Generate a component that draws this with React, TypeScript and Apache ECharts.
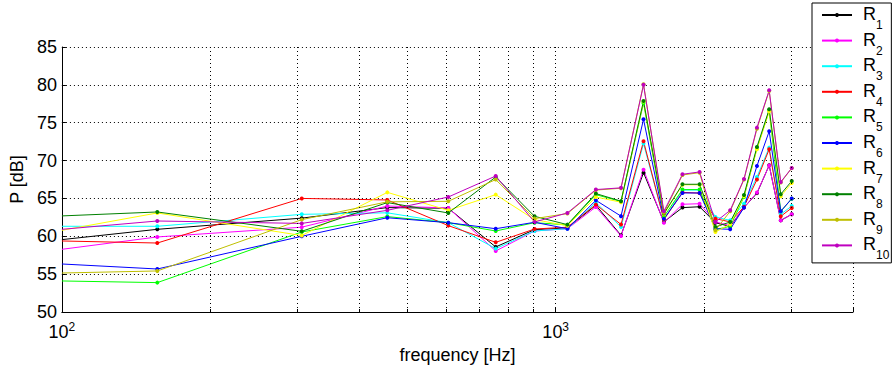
import React, { useEffect, useRef } from 'react';
import * as echarts from 'echarts';

// Frequencies (Hz). The first entry is the left edge of the plot (lines enter from below 100 Hz).
const frequencies = [100, 156, 306, 456, 606, 756, 906, 1056, 1206, 1356, 1506, 1656, 1806, 1956, 2106, 2256, 2406, 2556, 2706, 2856, 3006];

const seriesNames = ['R1', 'R2', 'R3', 'R4', 'R5', 'R6', 'R7', 'R8', 'R9', 'R10'];
const seriesColors = ['#000000', '#ff00ff', '#00ffff', '#ff0000', '#00ff00', '#0000ff', '#ffff00', '#008000', '#bfbf00', '#bf00bf'];

const r1 = [59.56, 60.92, 62.4, 63.79, 63.7, 58.59, 60.88, 61.1, 64.1, 60.13, 68.4, 61.9, 63.79, 63.9, 61.8, 61.3, 63.8, 65.7, 69.38, 62.1, 62.9];
const r2 = [58.28, 59.91, 61.2, 64.0, 63.74, 58.06, 60.7, 61.0, 63.87, 60.04, 68.8, 61.8, 64.23, 64.3, 61.9, 61.4, 63.8, 65.77, 69.35, 62.1, 62.9];
const r3 = [61.32, 61.32, 62.9, 63.1, 61.8, 58.37, 60.7, 61.0, 64.45, 61.23, 72.24, 62.2, 66.1, 66.1, 62.55, 62.1, 64.3, 67.83, 71.71, 62.9, 64.0];
const r4 = [59.38, 59.11, 65.0, 64.8, 61.41, 59.2, 60.96, 61.2, 64.18, 61.56, 72.55, 62.2, 65.8, 65.7, 62.33, 61.9, 63.9, 67.49, 71.49, 62.64, 63.74];
const r5 = [54.1, 53.88, 60.57, 62.6, 61.8, 60.7, 61.8, 61.5, 65.5, 64.6, 77.6, 62.6, 66.17, 66.17, 60.88, 61.32, 65.2, 71.6, 76.6, 63.3, 64.95];
const r6 = [56.34, 55.68, 60.0, 62.45, 61.8, 61.0, 61.85, 61.0, 64.75, 62.66, 75.45, 62.3, 65.72, 65.72, 61.0, 60.92, 63.79, 69.29, 73.87, 63.3, 64.98];
const r7 = [60.79, 63.08, 60.1, 65.8, 63.43, 65.5, 62.2, 61.4, 65.19, 64.5, 77.8, 62.9, 66.8, 66.8, 60.57, 61.6, 65.3, 71.5, 76.5, 65.28, 67.04];
const r8 = [62.69, 63.21, 60.66, 64.45, 63.08, 67.83, 62.64, 61.54, 65.64, 64.64, 77.87, 63.0, 66.87, 66.87, 61.23, 61.89, 65.46, 71.8, 76.77, 65.55, 67.3];
const r9 = [55.15, 55.42, 62.2, 64.55, 64.62, 67.49, 62.33, 63.0, 66.1, 66.35, 80.08, 63.1, 68.1, 68.4, 60.8, 63.3, 67.5, 74.2, 79.2, 67.1, 69.0];
const r10 = [60.92, 62.02, 61.7, 63.43, 65.19, 67.96, 61.89, 63.08, 66.17, 66.4, 80.0, 63.3, 68.19, 68.5, 61.89, 63.43, 67.57, 74.35, 79.28, 67.17, 69.02];

const seriesValues = [r1, r2, r3, r4, r5, r6, r7, r8, r9, r10];

const minorFrequencies = [200, 300, 400, 500, 600, 700, 800, 900, 2000, 3000];

const FONT = '"Liberation Sans", Arial, Helvetica, sans-serif';

export default function App() {
  const ref = useRef<HTMLDivElement>(null);

  useEffect(() => {
    if (!ref.current) return;
    const chart = echarts.init(ref.current, null, { renderer: 'svg' });

    const dataSeries = seriesNames.map((name, k) => ({
      type: 'line',
      name,
      data: frequencies.map((f, i) =>
        i === 0 ? { value: [f, seriesValues[k][i]], symbol: 'none' } : [f, seriesValues[k][i]]
      ),
      symbol: 'circle',
      symbolSize: 4,
      showSymbol: true,
      clip: true,
      z: 3,
      lineStyle: { width: 1, color: seriesColors[k] },
      itemStyle: { color: seriesColors[k] },
      emphasis: { disabled: true },
    }));

    const option: any = {
      animation: false,
      backgroundColor: '#ffffff',
      textStyle: { fontFamily: FONT },
      grid: { left: 57, top: 47, width: 796, height: 265 },
      xAxis: {
        type: 'log',
        logBase: 10,
        min: 100,
        max: 4000,
        name: 'frequency [Hz]',
        nameLocation: 'middle',
        nameGap: 34,
        nameTextStyle: { fontSize: 18, color: '#000', fontFamily: FONT },
        axisLine: { show: true, onZero: false, lineStyle: { color: '#000', width: 1 } },
        axisTick: { show: true, inside: true, length: 4, lineStyle: { color: '#000', width: 1 } },
        minorTick: { show: false },
        splitLine: { show: true, lineStyle: { color: '#000', type: [1, 3], width: 1 } },
        axisLabel: {
          margin: 9,
          color: '#000',
          fontFamily: FONT,
          formatter: (v: number) => {
            if (Math.abs(v - 100) < 1) return '{b|10}{s|2}';
            if (Math.abs(v - 1000) < 1) return '{b|10}{s|3}';
            return '';
          },
          rich: {
            b: { fontSize: 18, lineHeight: 20, verticalAlign: 'bottom', padding: [3, 0, 0, 0], fontFamily: FONT, color: '#000' },
            s: { fontSize: 12, lineHeight: 12, verticalAlign: 'top', fontFamily: FONT, color: '#000' },
          },
        },
      },
      yAxis: {
        type: 'value',
        min: 50,
        max: 85,
        interval: 5,
        name: 'P [dB]',
        nameLocation: 'middle',
        nameGap: 28,
        nameRotate: 90,
        nameTextStyle: { fontSize: 18, color: '#000', fontFamily: FONT },
        axisLine: { show: true, onZero: false, lineStyle: { color: '#000', width: 1 } },
        axisTick: { show: true, inside: true, length: 4, lineStyle: { color: '#000', width: 1 } },
        splitLine: { show: true, lineStyle: { color: '#000', type: [1, 3], width: 1 } },
        axisLabel: { margin: 5, fontSize: 18, color: '#000', fontFamily: FONT },
      },
      legend: {
        data: seriesNames,
        orient: 'vertical',
        left: 812,
        top: 3,
        padding: [2, 2, 1.5, 9],
        itemGap: -0.4,
        itemWidth: 30,
        itemHeight: 5,
        backgroundColor: '#ffffff',
        borderColor: '#000',
        borderWidth: 1,
        borderRadius: 0,
        selectedMode: false,
        formatter: (name: string) => `{r|R}{s|${name.slice(1)}}`,
        textStyle: {
          color: '#000',
          fontFamily: FONT,
          rich: {
            r: { fontSize: 18, lineHeight: 20, verticalAlign: 'top', padding: [0, 0, 0, 6], fontFamily: FONT, color: '#000' },
            s: { fontSize: 12, lineHeight: 12, verticalAlign: 'top', padding: [14, 0, 0, 0], fontFamily: FONT, color: '#000' },
          },
        },
      },
      series: [
        {
          type: 'line',
          name: 'minor-grid',
          data: [],
          silent: true,
          z: 1,
          markLine: {
            silent: true,
            symbol: ['none', 'none'],
            label: { show: false },
            emphasis: { disabled: true },
            lineStyle: { color: '#000', type: [1, 3], width: 1 },
            data: minorFrequencies.map((f) => ({ xAxis: f })),
          },
        },
        {
          type: 'line',
          name: 'minor-ticks',
          data: [],
          silent: true,
          z: 2,
          markLine: {
            silent: true,
            symbol: ['none', 'none'],
            label: { show: false },
            emphasis: { disabled: true },
            lineStyle: { color: '#000', type: 'solid', width: 1 },
            data: minorFrequencies.map((f) => [{ coord: [f, 50] }, { coord: [f, 50.4] }]),
          },
        },
        ...dataSeries,
      ],
    };

    chart.setOption(option);
    return () => chart.dispose();
  }, []);

  return (
    <div
      ref={ref}
      style={{ position: 'absolute', left: 0, top: 0, width: 892, height: 371, background: '#fff' }}
    />
  );
}
